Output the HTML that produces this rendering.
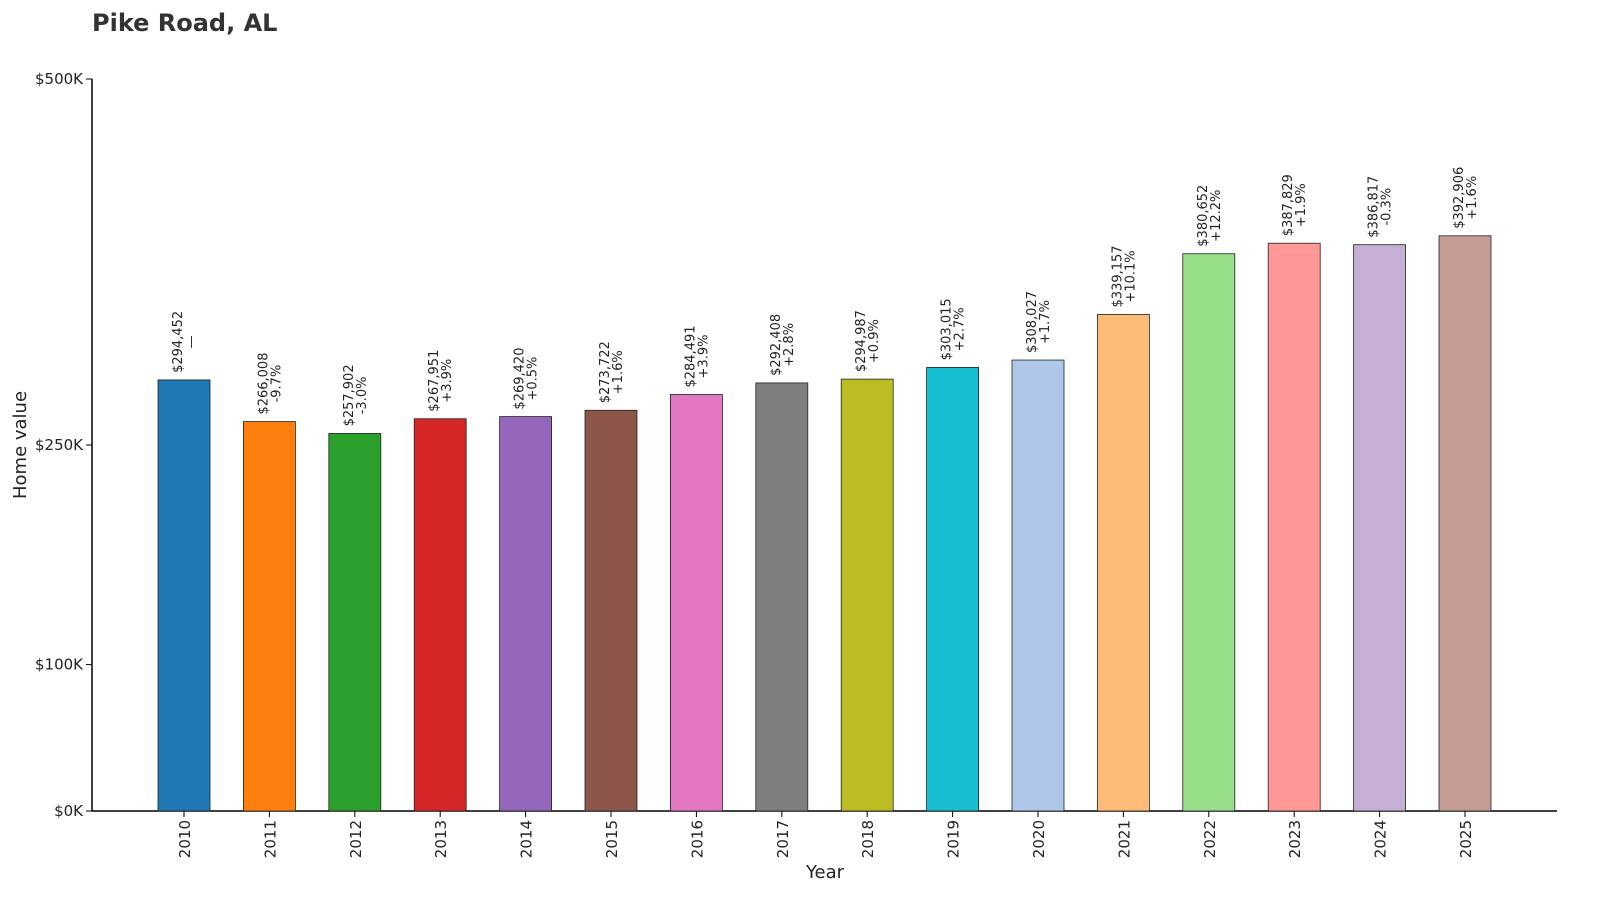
<!DOCTYPE html>
<html><head><meta charset="utf-8"><style>
body{margin:0;background:#fff;}
svg{display:block;font-family:"DejaVu Sans","Liberation Sans",sans-serif;}
</style></head><body>
<svg id="chart" width="1600" height="911" viewBox="0 0 1600 911">
<text x="92" y="31" font-size="24" font-weight="bold" fill="#333">Pike Road, AL</text>
<g id="axes"></g>
<g id="bars"></g>
<text transform="translate(26,445) rotate(-90)" text-anchor="middle" font-size="18" fill="#222">Home value</text>
<text x="825" y="878" text-anchor="middle" font-size="18" fill="#222">Year</text>
</svg>
<script>
const years=["2010","2011","2012","2013","2014","2015","2016","2017","2018","2019","2020","2021","2022","2023","2024","2025"];
const values=[294452,266008,257902,267951,269420,273722,284491,292408,294987,303015,308027,339157,380652,387829,386817,392906];
const changes=["—","-9.7%","-3.0%","+3.9%","+0.5%","+1.6%","+3.9%","+2.8%","+0.9%","+2.7%","+1.7%","+10.1%","+12.2%","+1.9%","-0.3%","+1.6%"];
const yTicks=[0,100000,250000,500000];
const yTickLabels=["$0K","$100K","$250K","$500K"];
const colors=["#1f77b4","#ff7f0e","#2ca02c","#d62728","#9467bd","#8c564b","#e377c2","#7f7f7f","#bcbd22","#17becf","#aec7e8","#ffbb78","#98df8a","#ff9896","#c5b0d5","#c49c94"];
const NS="http://www.w3.org/2000/svg";
const y0=811,y1=79,maxV=500000;
const yScale=v=>y0-(v/maxV)*(y0-y1);
const xScale=i=>184+i*(1465-184)/(years.length-1);
const bw=52;
function mk(t,a,p){const e=document.createElementNS(NS,t);for(const k in a)e.setAttribute(k,a[k]);p.appendChild(e);return e;}
const axes=document.getElementById('axes'),bars=document.getElementById('bars');
let l=mk('line',{x1:92,y1:79,x2:92,y2:811,stroke:'#000','stroke-width':1.5},axes);


l=mk('line',{x1:92,y1:811,x2:1557,y2:811,stroke:'#000','stroke-width':1.5},axes);


yTicks.forEach((v,i)=>{const y=yScale(v);
mk('line',{x1:86,y1:y,x2:92,y2:y,stroke:'#000'},axes);
const t=mk('text',{x:83,y:y+5,'text-anchor':'end','font-size':15,fill:'#222'},axes);t.textContent=yTickLabels[i];

});
years.forEach((yr,i)=>{const cx=xScale(i),top=yScale(values[i]);
const r=mk('rect',{x:cx-bw/2,y:top,width:bw,height:y0-top,fill:colors[i],stroke:'#222','stroke-width':0.8},bars);


mk('line',{x1:cx,y1:811,x2:cx,y2:817,stroke:'#000'},axes);
const t=mk('text',{transform:`translate(${cx+6},820) rotate(-90)`,'text-anchor':'end','font-size':15,fill:'#222'},axes);t.textContent=yr;


const g=mk('g',{transform:`translate(${cx},${top-7}) rotate(-90)`},bars);


const a=mk('text',{x:0,y:-2,'font-size':13,fill:'#222'},g);a.textContent='$'+values[i].toLocaleString('en-US');
const b=mk('text',{x:0,y:11,'font-size':13,fill:'#222','text-anchor':'middle'},g);b.textContent=changes[i];
const w=Math.max(a.getComputedTextLength(),b.getComputedTextLength());
a.setAttribute('x',w/2);a.setAttribute('text-anchor','middle');b.setAttribute('x',w/2);
});
</script>
</body></html>
